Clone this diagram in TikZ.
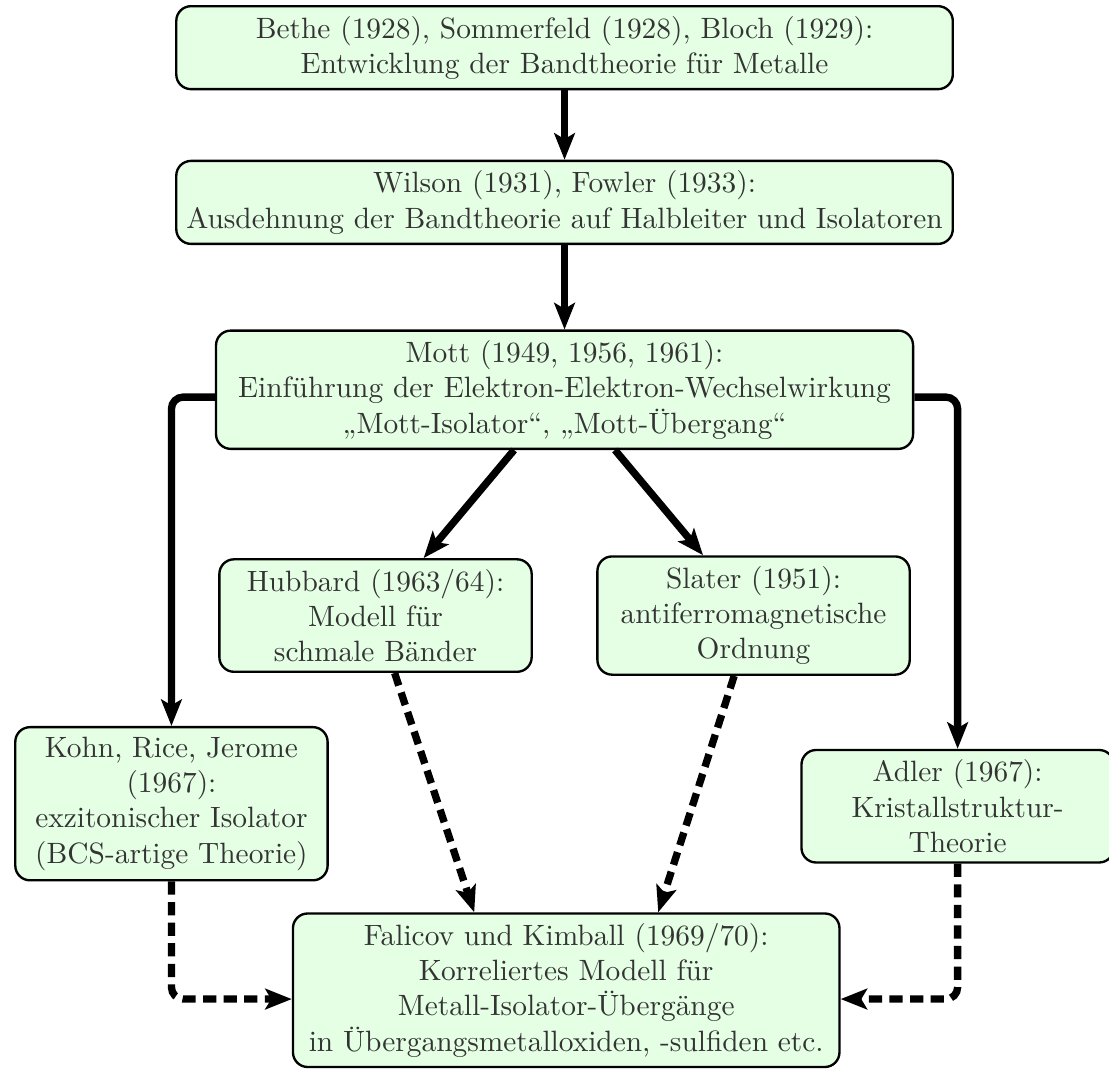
\documentclass[tikz,border=0pt]{standalone}
\usepackage{fontspec}
\usetikzlibrary{arrows.meta}

\begin{document}
\begin{tikzpicture}[
    box/.style={draw, thick, rounded corners=5pt, fill=green!10, text=black!80, align=center},
    smallbox/.style={box, text width=3.5cm},
    arrow/.style={line width=2.5pt, -{Stealth[length=9pt, width=7pt, inset=2pt]}},
    dasharrow/.style={arrow, dash pattern=on 4.5pt off 2.5pt}
]
    \useasboundingbox (0,0) rectangle (13.26,-12.77);
    \node[box, text width=9.05cm] (A) at (6.75,-0.57) {Bethe (1928), Sommerfeld (1928), Bloch (1929):\\Entwicklung der Bandtheorie für Metalle};
    \node[box, text width=9.05cm] (B) at (6.75,-2.42) {Wilson (1931), Fowler (1933):\\Ausdehnung der Bandtheorie auf Halbleiter und Isolatoren};
    \node[box, text width=8.1cm] (C) at (6.75,-4.66) {Mott (1949, 1956, 1961):\\Einführung der Elektron-Elektron-Wechselwirkung\\„Mott-Isolator“, „Mott-Übergang“};
    \node[smallbox] (D) at (4.49,-7.36) {Hubbard (1963/64):\\Modell für\\schmale Bänder};
    \node[smallbox] (E) at (9.01,-7.36) {Slater (1951):\\antiferromagnetische\\Ordnung};
    \node[smallbox] (F) at (2.05,-9.61) {Kohn, Rice, Jerome\\(1967):\\exzitonischer Isolator\\(BCS-artige Theorie)};
    \node[smallbox] (G) at (11.45,-9.64) {Adler (1967):\\Kristallstruktur-\\Theorie};
    \node[box, text width=6.3cm] (H) at (6.77,-11.84) {Falicov und Kimball (1969/70):\\Korreliertes Modell für\\Metall-Isolator-Übergänge\\in Übergangsmetalloxiden, -sulfiden etc.};
    \draw [arrow] (A) -- (B);
    \draw [arrow] (B) -- (C);
    \draw [arrow] (C) -- (D);
    \draw [arrow] (C) -- (E);
    \draw [arrow, rounded corners=4pt] ([yshift=-2.5pt]C.west) -| (F);
    \draw [arrow, rounded corners=4pt] ([yshift=-2.5pt]C.east) -| (G);
    \draw [dasharrow] (D) -- ([xshift=-1.1cm]H.north);
    \draw [dasharrow] (E) -- ([xshift=1.1cm]H.north);
    \draw [dasharrow, rounded corners=4pt] (F) |- ([yshift=-3pt]H.west);
    \draw [dasharrow, rounded corners=4pt] (G) |- ([yshift=-3pt]H.east);
\end{tikzpicture}
\end{document}
